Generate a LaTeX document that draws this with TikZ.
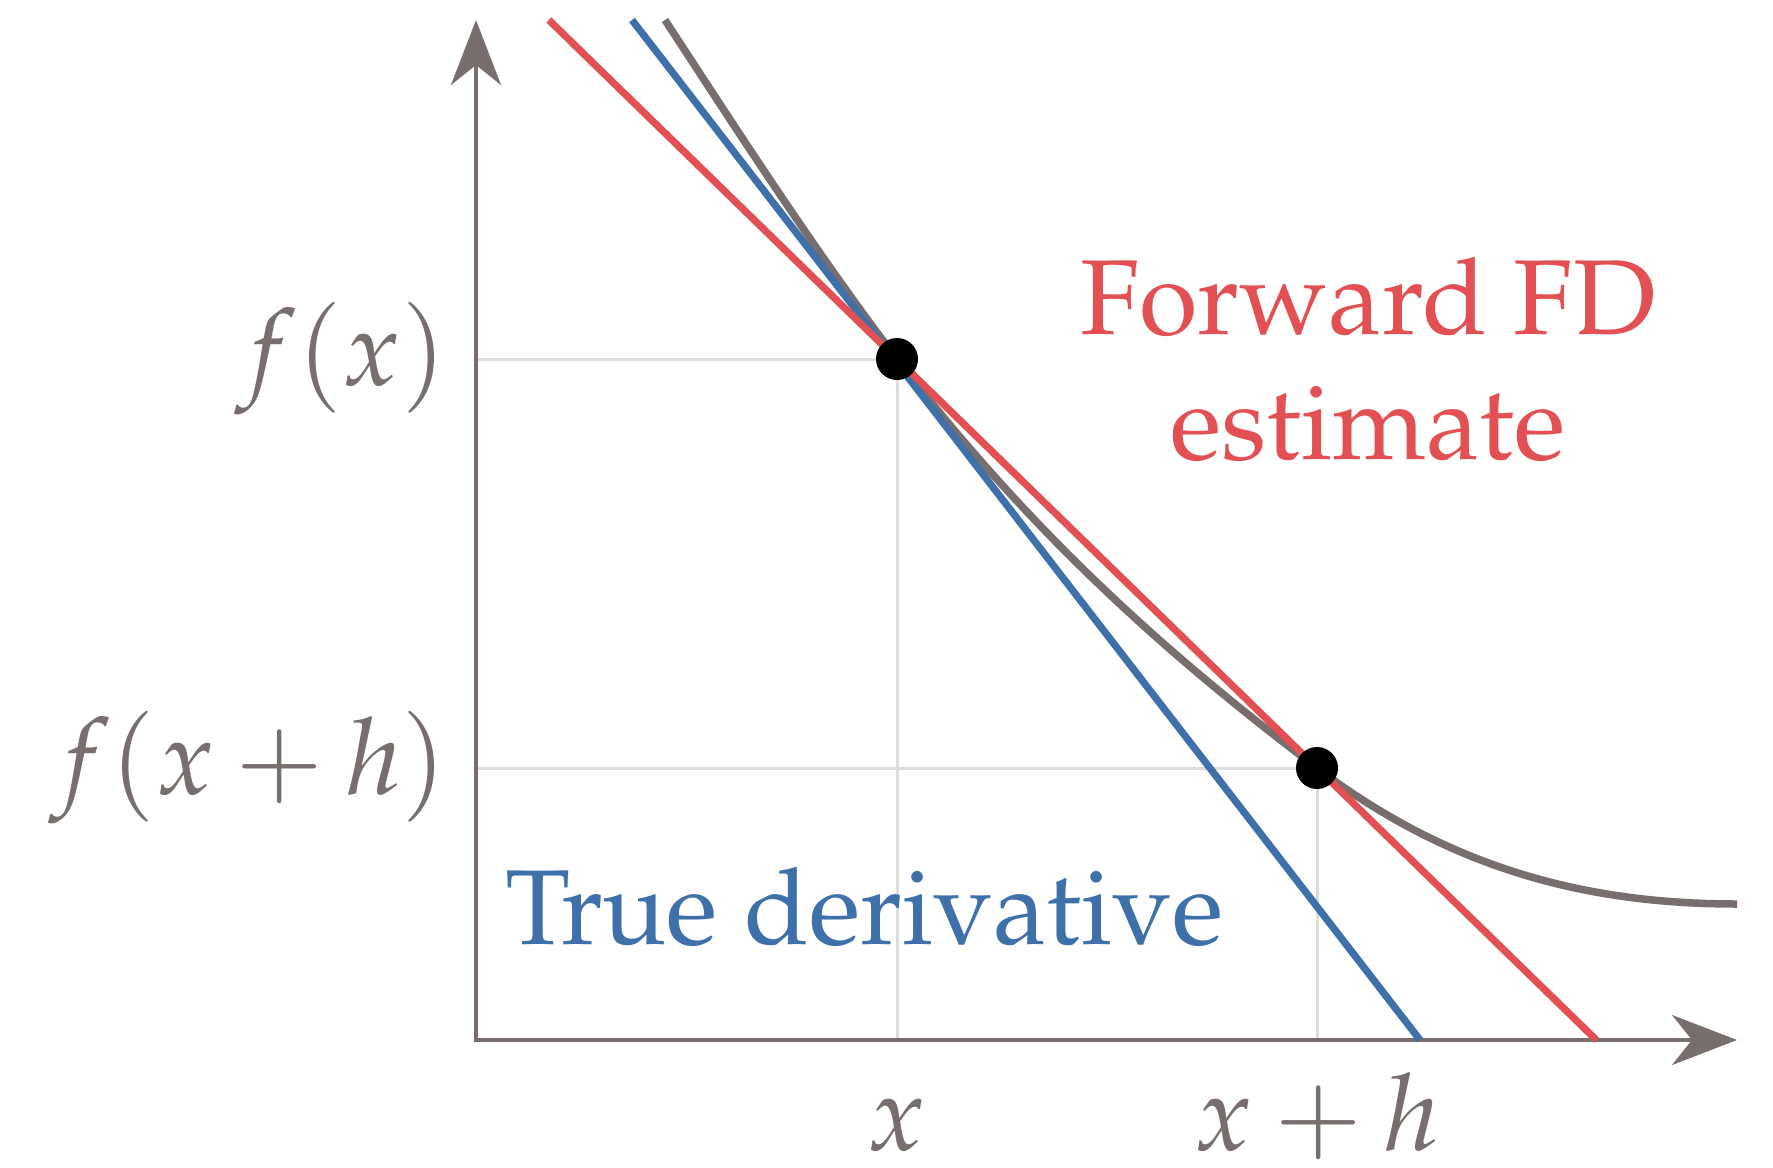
\documentclass[tikz,border=0pt]{standalone}
\usepackage[T1]{fontenc}
\usepackage{mathpazo}
\usepackage{tikz}
\usetikzlibrary{positioning, arrows.meta, calc}
\usepackage{xcolor}

\definecolor{fdred}{RGB}{226,80,84}
\definecolor{trublue}{RGB}{62,112,170}
\definecolor{axgray}{RGB}{120,110,110}
\definecolor{gridgray}{RGB}{220,220,220}

\begin{document}
\begin{tikzpicture}[
        x=0.1mm, y=-0.1mm,
        >={Stealth[length=6.5mm, width=5mm, inset=2mm]},
        axis/.style    = {draw=axgray, line width=0.42mm, <->},
        hair/.style    = {draw=gridgray, line width=0.3mm},
        func/.style    = {draw=axgray, line width=0.75mm},
        tangent/.style = {draw=trublue, line width=0.72mm},
        secant/.style  = {draw=fdred, line width=0.72mm},
        dot/.style     = {circle, fill=black, inner sep=0pt, minimum size=4.2mm},
        lbl/.style     = {inner sep=0pt, font=\fontsize{30.3}{35.6}\selectfont},
    ]
        \useasboundingbox (0,0) rectangle (1773,1168);
        % axes and sample points
        \coordinate (o)    at (476,1040);
        \coordinate (ytip) at (476,20);
        \coordinate (xtip) at (1737,1040);
        \coordinate (p1)   at (897,359);
        \coordinate (p2)   at (1317,768);
        \coordinate (ya)   at (o |- p1);
        \coordinate (yb)   at (o |- p2);
        \coordinate (xa)   at (p1 |- o);
        \coordinate (xb)   at (p2 |- o);
        % line ends
        \coordinate (btop) at (632,20);
        \coordinate (bbot) at (1420,1040);
        \coordinate (rtop) at ($(p1)!-0.829!(p2)$);
        \coordinate (rbot) at ($(p1)!1.665!(p2)$);
        \coordinate (gtop) at (665,20);
        \coordinate (gend) at (1737,904);

        \draw[hair] (ya) -- (p1) -- (xa);
        \draw[hair] (yb) -- (p2) -- (xb);
        \draw[axis] (ytip) -- (o) -- (xtip);

        \draw[func] (gtop) .. controls (742,138) and (819,257) .. (p1)
            .. controls (1037,541) and (1177,662) .. (p2)
            .. controls (1457,874) and (1597,904) .. (gend);
        \draw[tangent] (btop) -- (bbot);
        \draw[secant] (rtop) -- (rbot);

        \node[dot] (d1) at (p1) {};
        \node[dot] (d2) at (p2) {};

        \node[lbl, text=axgray, left=2.8mm of ya] (fx)  {$f(x)$};
        \node[lbl, text=axgray, left=2.8mm of yb] (fxh) {$f(x+h)$};
        \node[lbl, text=axgray, anchor=base] (xl)  at ($(xa)+(0,110)$) {$x$};
        \node[lbl, text=axgray, anchor=base] (xhl) at ($(xb)+(0,110)$) {$x+h$};

        \node[lbl, text=fdred, align=center] (fd) at (1368,360) {Forward FD\\estimate};
        \node[lbl, text=trublue, anchor=base west] (td) at (505,944) {True derivative};
    \end{tikzpicture}
\end{document}
